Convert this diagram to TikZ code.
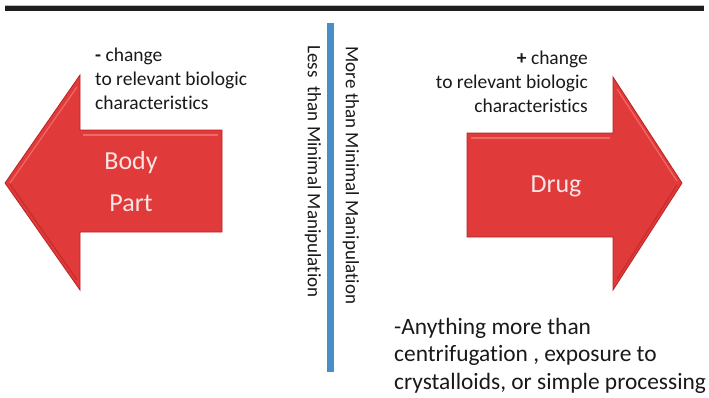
\documentclass[tikz,border=0pt]{standalone}
\usepackage{fontspec}
\setmainfont{Carlito}[Ligatures={NoCommon,NoContextual}]
\definecolor{arrowred}{RGB}{224,58,58}
\definecolor{arrowdark}{RGB}{185,35,35}
\definecolor{arrowlight}{RGB}{242,118,112}
\definecolor{arrowtext}{RGB}{250,228,228}
\definecolor{barblue}{RGB}{72,142,200}
\definecolor{bargray}{RGB}{30,30,30}
\definecolor{txtgray}{RGB}{25,25,25}
\tikzset{
  bigarrow/.style={fill=arrowred, draw=arrowdark, line width=0.8pt, line join=miter},
  bevel/.style={draw=arrowlight, line width=1.2pt, opacity=0.8},
  arrowlabel/.style={text=arrowtext, font=\fontsize{26}{42}\selectfont, align=center, inner sep=0pt},
  sidenote/.style={text=txtgray, font=\fontsize{19.5}{24}\selectfont, inner sep=0pt},
  vertlabel/.style={text=txtgray, font=\fontsize{19}{22}\selectfont, rotate=-90, inner sep=0pt},
  bottomnote/.style={text=txtgray, font=\fontsize{23.4}{27.5}\selectfont, align=left, inner sep=0pt, anchor=north west}
}
\begin{document}
\begin{tikzpicture}[x=1pt,y=-1pt]
\useasboundingbox (0,0) rectangle (709,397);
% top rule
\fill[gray!50] (5,4.5) rectangle (704,6);
\fill[bargray] (5,6) rectangle (704,11);
% divider
\fill[barblue] (327,23) rectangle (334,372);
% left arrow
\path[bigarrow] (5,183) -- (80,75) -- (80,130) -- (222,130) -- (222,232) -- (80,232) -- (80,290) -- cycle;
\draw[bevel] (10,183) -- (77,87);
\draw[bevel] (83,135) -- (218,135);
\draw[draw=arrowdark, line width=1.2pt, opacity=0.6] (10,184) -- (77,280);
% right arrow
\path[bigarrow] (467,133) -- (613,133) -- (613,77) -- (682,183) -- (613,290) -- (613,237) -- (467,237) -- cycle;
\draw[bevel] (471,138) -- (610,138);
\draw[bevel] (617,89) -- (677,181);
\draw[draw=arrowdark, line width=1.2pt, opacity=0.6] (677,185) -- (617,279);
% labels
\node[arrowlabel] (body) at (131,182) {Body\\Part};
\node[arrowlabel] (drug) at (556,186) {Drug};
\node[sidenote, anchor=north west, align=left] (minus) at (95,48) {\textbf{-} change\\to relevant biologic\\characteristics};
\node[sidenote, anchor=north east, align=right] (plus) at (588,51) {\textbf{+} change\\to relevant biologic\\characteristics};
\node[vertlabel] (less) at (313,171.5) {Less\ \ than Minimal Manipulation};
\node[vertlabel] (more) at (351,175.5) {More than Minimal Manipulation};
\node[bottomnote] (anything) at (394,318) {-Anything more than\\centrifugation , exposure to\\crystalloids, or simple processing};
\end{tikzpicture}
\end{document}
